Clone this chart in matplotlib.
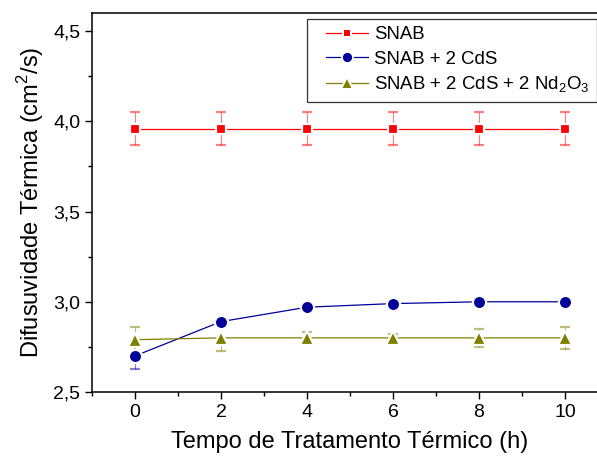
import matplotlib.pyplot as plt
from matplotlib.lines import Line2D
from matplotlib.legend_handler import HandlerLine2D
from matplotlib.ticker import MultipleLocator, FuncFormatter

plt.rcParams['font.family'] = ['Liberation Sans', 'DejaVu Sans']
plt.rcParams['mathtext.fontset'] = 'custom'
plt.rcParams['mathtext.rm'] = 'Liberation Sans'

# --- Dati ---
tempo = [0, 2, 4, 6, 8, 10]

snab = [3.96, 3.96, 3.96, 3.96, 3.96, 3.96]
snab_err = [0.09, 0.09, 0.09, 0.09, 0.09, 0.09]

snab_cds = [2.70, 2.89, 2.97, 2.99, 3.00, 3.00]
snab_cds_err = [0.07, 0.02, 0.01, 0.01, 0.02, 0.01]

snab_cds_nd = [2.79, 2.80, 2.80, 2.80, 2.80, 2.80]
snab_cds_nd_err = [0.07, 0.07, 0.03, 0.02, 0.05, 0.06]

etichette = ['SNAB', 'SNAB + 2 CdS', r'SNAB + 2 CdS + 2 Nd$_2$O$_3$']

# --- Figura ---
fig = plt.figure(figsize=(5.97, 4.63), dpi=100)
ax = fig.add_axes([0.1541, 0.1533, 0.8643, 0.8186])

serie = [
    (snab, snab_err, '#ff0000', 's', 7.5),
    (snab_cds, snab_cds_err, '#000099', 'o', 9.5),
    (snab_cds_nd, snab_cds_nd_err, '#808000', '^', 10.5),
]

handles = []
for (y, err, col, mk, ms), lab in zip(serie, etichette):
    cont = ax.errorbar(tempo, y, yerr=err, color=col, lw=0.9, marker=mk, ms=ms,
                       mfc=col, mec='white', mew=1.6, ecolor=col, elinewidth=0.8,
                       capsize=3.5, capthick=0.8)
    # barre d'errore un po' piu' chiare
    for art in list(cont[1]) + list(cont[2]):
        art.set_alpha(0.5)
    handles.append(Line2D([], [], color=col, lw=0.9, marker=mk, ms=ms * 0.85,
                          mfc=col, mec='white', mew=1.4, label=lab))

ax.set_xlim(-1, 11)
ax.set_ylim(2.5, 4.6)
ax.xaxis.set_major_locator(MultipleLocator(2))
ax.xaxis.set_minor_locator(MultipleLocator(1))
ax.yaxis.set_major_locator(MultipleLocator(0.5))
ax.yaxis.set_minor_locator(MultipleLocator(0.25))
ax.yaxis.set_major_formatter(FuncFormatter(lambda v, p: f'{v:.1f}'.replace('.', ',')))

ax.tick_params(which='major', direction='out', length=5, width=1, labelsize=14)
ax.tick_params(which='minor', direction='out', length=3, width=1)
for s in ax.spines.values():
    s.set_linewidth(1.1)

ax.set_xlabel('Tempo de Tratamento Térmico (h)', fontsize=17, labelpad=7)
ax.set_ylabel('Difusuvidade Térmica (cm$^2$/s)', fontsize=17, labelpad=5)

leg = ax.legend(handles=handles, loc='upper left',
                bbox_to_anchor=(307 / 597, 1 - 19 / 463),
                bbox_transform=fig.transFigure, fontsize=13.4, frameon=True,
                fancybox=False, edgecolor='black', handlelength=2.88,
                handletextpad=0.3, labelspacing=0.38, borderpad=0.4,
                borderaxespad=0, handler_map={Line2D: HandlerLine2D(xpad=0.62)})
leg.get_frame().set_linewidth(0.9)

fig.savefig('out.png', dpi=100)
